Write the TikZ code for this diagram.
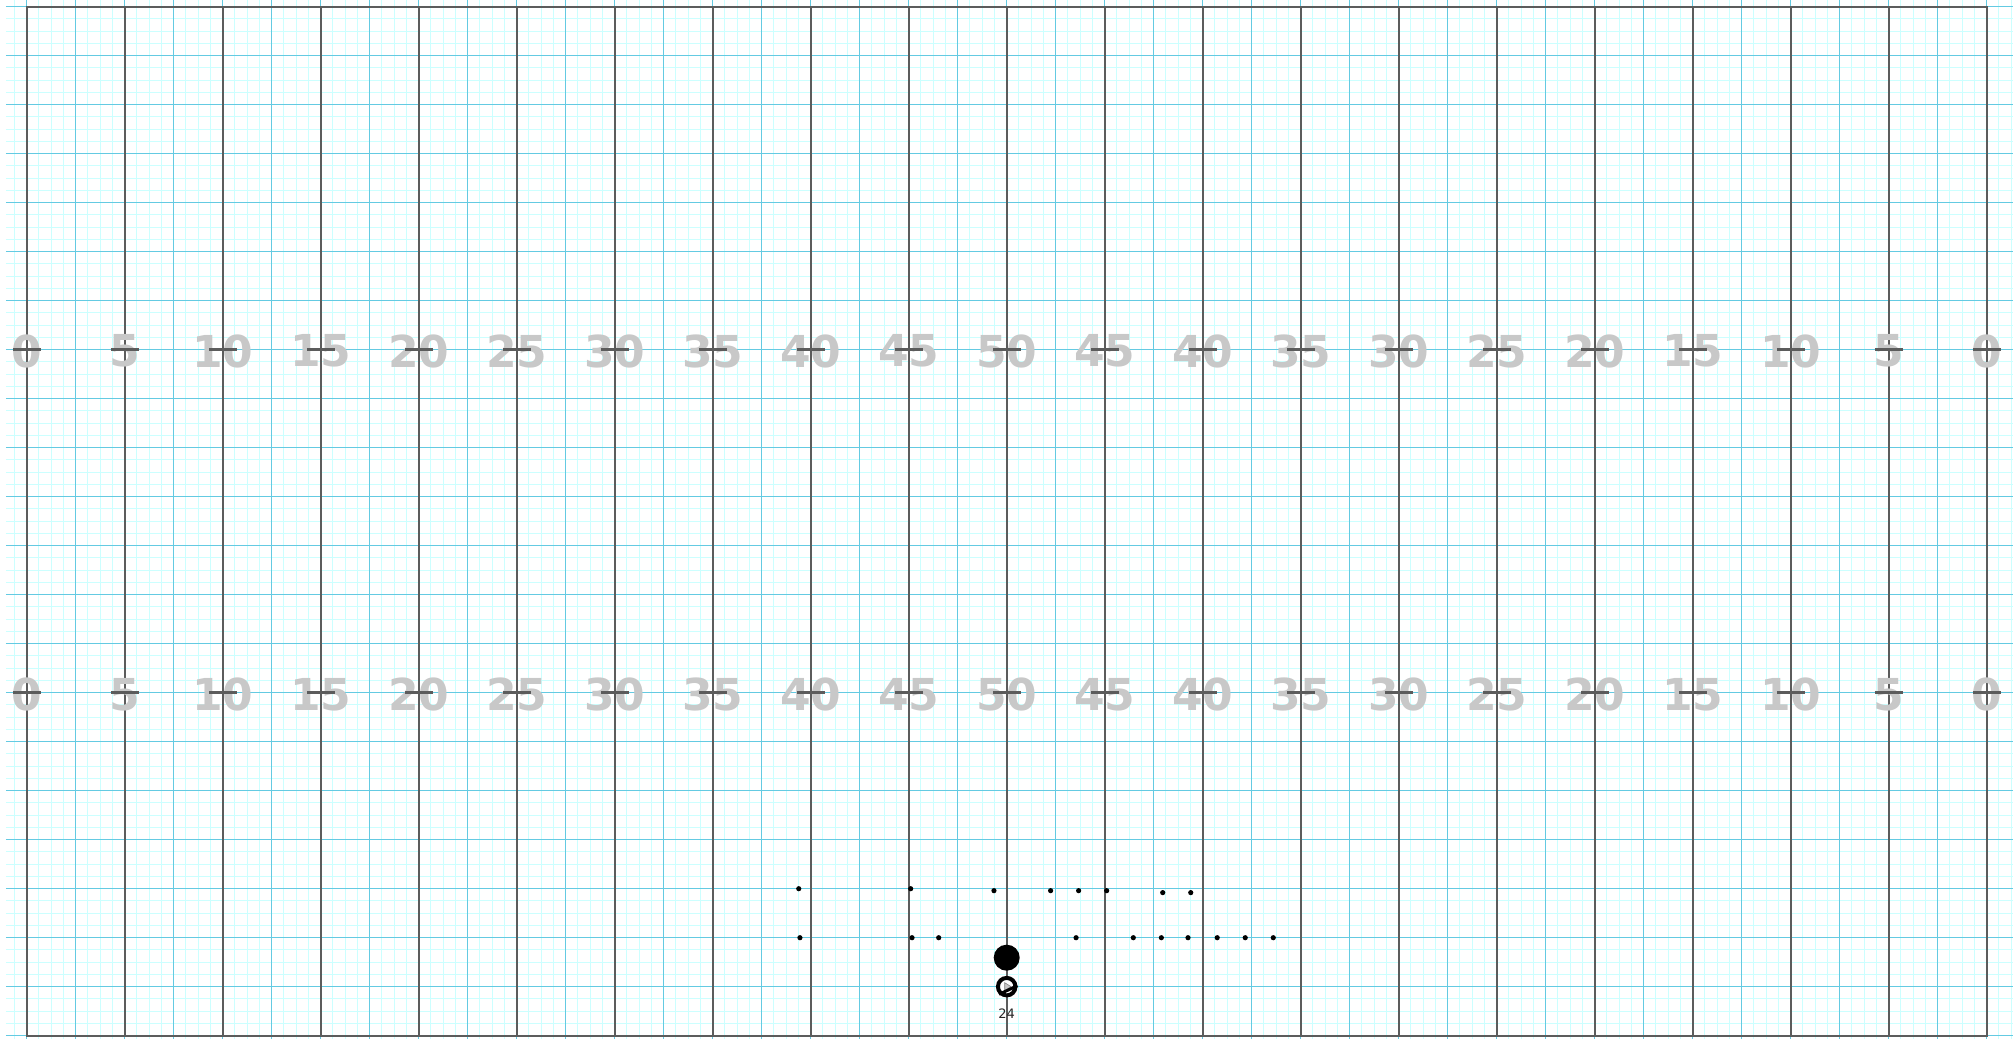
\documentclass[tikz,border=0pt]{standalone}
\usepackage{fontspec}
\setmainfont{DejaVu Sans}
\usepackage{xcolor}
\usepackage{tikz}
\usetikzlibrary{positioning}
\definecolor{minorgrid}{RGB}{204,255,255}
\definecolor{majorgrid}{RGB}{100,202,226}
\definecolor{yardgray}{RGB}{92,92,92}
\definecolor{numgray}{RGB}{200,200,200}

\begin{document}
\begin{tikzpicture}[
  x=19.6pt,y=-19.6pt,
  node distance=5pt,
  minor/.style={draw=minorgrid,line width=1pt},
  major/.style={draw=majorgrid,line width=1.5pt},
  yard/.style={draw=yardgray,line width=1.8pt},
  hash/.style={draw=yardgray,line width=3pt},
  num/.style={text=numgray,inner sep=0pt,font=\fontsize{44}{44}\selectfont\bfseries},
  dot/.style={circle,fill=black,inner sep=0pt,minimum size=5.2pt},
  ball/.style={circle,fill=black,inner sep=0pt,minimum size=26pt},
  player/.style={circle,draw=black,fill=white,line width=4pt,inner sep=0pt,minimum size=17.5pt},
  tag/.style={text=black!85,inner sep=0pt,font=\fontsize{13}{13}\selectfont}
]
\useasboundingbox (-1.362,-0.342) rectangle (101.342,52.668);
\foreach \i in {-1,...,162}
  \draw[minor] (\i*0.625,-0.342) -- (\i*0.625,52.668);
\foreach \j in {0,...,84}
  \draw[minor] (-1.06,\j*0.625) -- (101.342,\j*0.625);
\foreach \i in {0,...,40}
  \draw[major] (\i*2.5,-0.342) -- (\i*2.5,52.668);
\foreach \j in {0,...,21}
  \draw[major] (-1.06,\j*2.5) -- (101.342,\j*2.5);
\foreach \x in {0,5,...,100}
  \draw[yard] (\x,0) -- (\x,52.5);
\draw[yard,line width=2pt] (0,0) rectangle (100,52.5);
\foreach \x in {0,5,...,100} {
  \pgfmathtruncatemacro\yd{50-abs(50-\x)}
  \node[num] (upper\x) at (\x,17.58) {\yd};
  \node[num] (lower\x) at (\x,35.08) {\yd};
  \draw[hash] (\x-0.71,17.5) -- (\x+0.71,17.5);
  \draw[hash] (\x-0.71,35) -- (\x+0.71,35);
}
\foreach \x/\y [count=\k] in {39.39/45.0,45.10/45.0,49.35/45.1,52.24/45.1,53.67/45.1,55.10/45.1,57.96/45.2,59.39/45.2}
  \node[dot] (top\k) at (\x,\y) {};
\foreach \x [count=\k] in {39.45,45.17,46.53,53.54,56.46,57.89,59.25,60.74,62.17,63.60}
  \node[dot] (low\k) at (\x,47.5) {};
\node[ball] (ball) at (50,48.52) {};
\node[player,below=of ball] (carrier) {};
\node[tag,below=11pt of carrier] (number) {24};
\fill[gray!45,draw=gray,line width=0.6pt] ([shift={(-0.1,-0.2)}]carrier.center) -- ([shift={(0.22,0)}]carrier.center) -- ([shift={(-0.1,0.2)}]carrier.center) -- cycle;
\draw[line width=3pt] (carrier.-135) -- (carrier.5);
\end{tikzpicture}
\end{document}
